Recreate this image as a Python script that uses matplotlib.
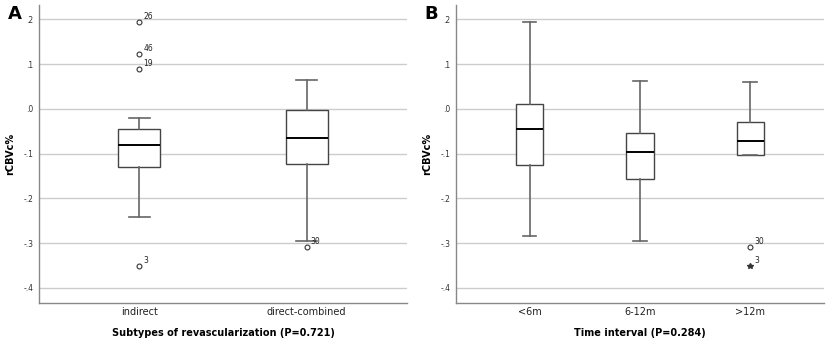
import matplotlib
matplotlib.use("Agg")
import matplotlib.pyplot as plt

# %% data
# panel A: subtypes of revascularization
cats_a = ["indirect", "direct-combined"]
whislo_a = [-0.242, -0.296]
q1_a = [-0.130, -0.123]
med_a = [-0.080, -0.065]
q3_a = [-0.044, -0.003]
whishi_a = [-0.020, 0.064]
# outliers: (category index, value, case label, marker)
out_a = [(0, 0.195, "26", "o"), (0, 0.123, "46", "o"), (0, 0.089, "19", "o"),
         (0, -0.350, "3", "o"), (1, -0.309, "30", "o")]

# panel B: time interval
cats_b = ["<6m", "6-12m", ">12m"]
whislo_b = [-0.284, -0.296, -0.104]
q1_b = [-0.125, -0.156, -0.104]
med_b = [-0.045, -0.096, -0.071]
q3_b = [0.010, -0.054, -0.030]
whishi_b = [0.195, 0.063, 0.060]
out_b = [(2, -0.309, "30", "o"), (2, -0.350, "3", "*")]

yticks = [0.2, 0.1, 0.0, -0.1, -0.2, -0.3, -0.4]
ytick_labels = [".2", ".1", ".0", "-.1", "-.2", "-.3", "-.4"]

plt.rcParams["font.family"] = "DejaVu Sans"

fig = plt.figure(figsize=(8.29, 3.41), dpi=100)
ax_a = fig.add_axes([0.047, 0.111, 0.444, 0.874])
ax_b = fig.add_axes([0.550, 0.111, 0.444, 0.874])


def draw_panel(ax, cats, lo, q1, med, q3, hi, outs, xlim, xlabel, letter):
    stats = []
    for i, c in enumerate(cats):
        stats.append(dict(label=c, whislo=lo[i], q1=q1[i], med=med[i],
                          q3=q3[i], whishi=hi[i], fliers=[]))
    pos = list(range(1, len(cats) + 1))
    ax.bxp(stats, positions=pos, widths=0.25, patch_artist=True,
           showfliers=False,
           boxprops=dict(facecolor="white", edgecolor="#444444", linewidth=1.0),
           medianprops=dict(color="black", linewidth=1.4),
           whiskerprops=dict(color="#666666", linewidth=1.2),
           capprops=dict(color="#666666", linewidth=1.2),
           capwidths=0.125)
    for idx, val, lab, mk in outs:
        if mk == "o":
            ax.plot(pos[idx], val, "o", ms=3.5, mfc="white", mec="#333333",
                    mew=0.8, zorder=4)
        else:
            ax.plot(pos[idx], val, "*", ms=4, color="#333333", zorder=4)
        ax.annotate(lab, (pos[idx], val), xytext=(3, 2),
                    textcoords="offset points", fontsize=5.5, color="#222222")

    ax.set_xlim(*xlim)
    ax.set_ylim(-0.434, 0.232)
    ax.set_yticks(yticks)
    ax.set_yticklabels(ytick_labels, fontsize=5.5, color="#333333")
    ax.set_xticks(pos)
    ax.set_xticklabels(cats, fontsize=7, color="#222222")
    ax.tick_params(axis="both", length=0, pad=3)
    ax.tick_params(axis="y", pad=4)
    ax.grid(axis="y", color="#cccccc", linewidth=1.0)
    ax.set_axisbelow(True)
    for s in ["top", "right"]:
        ax.spines[s].set_visible(False)
    for s in ["left", "bottom"]:
        ax.spines[s].set_color("#888888")
        ax.spines[s].set_linewidth(1.0)
    ax.set_ylabel("rCBVc%", fontsize=7, fontweight="bold", labelpad=6)
    ax.set_xlabel(xlabel, fontsize=7, fontweight="bold", labelpad=8)
    ax.text(-0.085, 1.0, letter, transform=ax.transAxes, fontsize=13,
            fontweight="bold", va="top", ha="left")


draw_panel(ax_a, cats_a, whislo_a, q1_a, med_a, q3_a, whishi_a, out_a,
           (0.4, 2.6), "Subtypes of revascularization (P=0.721)", "A")
draw_panel(ax_b, cats_b, whislo_b, q1_b, med_b, q3_b, whishi_b, out_b,
           (0.333, 3.667), "Time interval (P=0.284)", "B")

fig.savefig("out.png", dpi=100)
